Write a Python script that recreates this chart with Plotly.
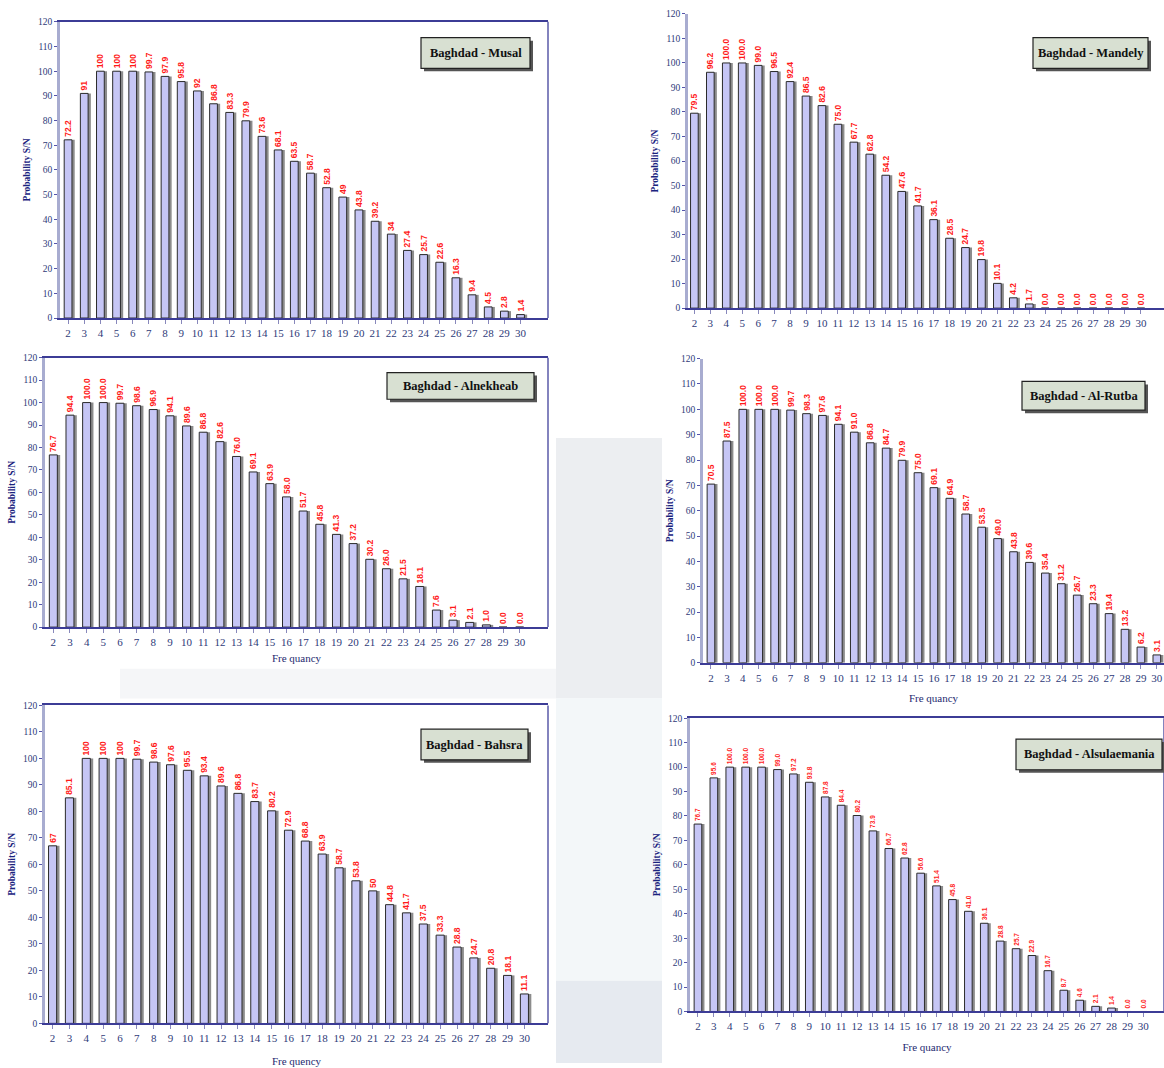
import plotly.graph_objects as go

W, H = 1164, 1068

freq = list(range(2, 31))

musal = [72.2, 91, 100, 100, 100, 99.7, 97.9, 95.8, 92, 86.8, 83.3, 79.9, 73.6, 68.1, 63.5,
         58.7, 52.8, 49, 43.8, 39.2, 34, 27.4, 25.7, 22.6, 16.3, 9.4, 4.5, 2.8, 1.4]
mandely = [79.5, 96.2, 100.0, 100.0, 99.0, 96.5, 92.4, 86.5, 82.6, 75.0, 67.7, 62.8, 54.2, 47.6,
           41.7, 36.1, 28.5, 24.7, 19.8, 10.1, 4.2, 1.7, 0.0, 0.0, 0.0, 0.0, 0.0, 0.0, 0.0]
alnekheab = [76.7, 94.4, 100.0, 100.0, 99.7, 98.6, 96.9, 94.1, 89.6, 86.8, 82.6, 76.0, 69.1, 63.9,
             58.0, 51.7, 45.8, 41.3, 37.2, 30.2, 26.0, 21.5, 18.1, 7.6, 3.1, 2.1, 1.0, 0.0, 0.0]
alrutba = [70.5, 87.5, 100.0, 100.0, 100.0, 99.7, 98.3, 97.6, 94.1, 91.0, 86.8, 84.7, 79.9, 75.0,
           69.1, 64.9, 58.7, 53.5, 49.0, 43.8, 39.6, 35.4, 31.2, 26.7, 23.3, 19.4, 13.2, 6.2, 3.1]
bahsra = [67, 85.1, 100, 100, 100, 99.7, 98.6, 97.6, 95.5, 93.4, 89.6, 86.8, 83.7, 80.2, 72.9,
          68.8, 63.9, 58.7, 53.8, 50, 44.8, 41.7, 37.5, 33.3, 28.8, 24.7, 20.8, 18.1, 11.1]
alsulaemania = [76.7, 95.6, 100.0, 100.0, 100.0, 99.0, 97.2, 93.8, 87.8, 84.4, 80.2, 73.9, 66.7,
                62.8, 56.6, 51.4, 45.8, 41.0, 36.1, 28.8, 25.7, 22.9, 16.7, 8.7, 4.6, 2.1, 1.4, 0.0, 0.0]

titles = ["Baghdad - Musal", "Baghdad - Mandely", "Baghdad - Alnekheab",
          "Baghdad - Al-Rutba", "Baghdad - Bahsra", "Baghdad - Alsulaemania"]
series = [musal, mandely, alnekheab, alrutba, bahsra, alsulaemania]
fmt = ["g", ".1f", ".1f", ".1f", "g", ".1f"]
yticks = list(range(0, 121, 10))

panels = [
    dict(px=(60, 548, 17, 316), xr=(1.5, 31.7), box=(421, 33, 530, 64), frame=True,
         xtitle=None, st=0, lblsize=8.5, boxfont="Liberation Serif"),
    dict(px=(688, 1164, 9, 306), xr=(1.6, 31.45), box=(1033, 33, 1148, 64), frame=False,
         xtitle=None, st=0, lblsize=8.5, boxfont="Liberation Serif"),
    dict(px=(45, 548, 356, 628), xr=(1.5, 31.7), box=(387, 371, 534, 398), frame=True,
         xtitle="Fre quancy", st=7, lblsize=8.5, boxfont="Liberation Serif"),
    dict(px=(703, 1164, 357, 664), xr=(1.5, 30.45), box=(1022, 380, 1145, 409), frame=False,
         xtitle="Fre quancy", st=12, lblsize=8.5, boxfont="Liberation Serif"),
    dict(px=(45, 548, 707, 1028), xr=(1.55, 31.4), box=(421, 731, 528, 762), frame=True,
         xtitle="Fre quency", st=14, lblsize=8.5, boxfont="Liberation Serif"),
    dict(px=(690, 1164, 720, 1016), xr=(1.5, 31.3), box=(1016, 741, 1162, 772), frame=True,
         xtitle="Fre quancy", st=12, lblsize=6.5, boxfont="Liberation Sans Narrow"),
]

fig = go.Figure()
shapes = []
annotations = []

def fx(p):
    return p / W

def fy(p):
    return 1 - p / H

shapes += [
    dict(type="rect", xref="paper", yref="paper", x0=fx(556), x1=fx(662), y0=fy(700), y1=fy(437),
         fillcolor="#eceef1", line=dict(width=0), layer="below"),
    dict(type="rect", xref="paper", yref="paper", x0=fx(556), x1=fx(662), y0=fy(985), y1=fy(700),
         fillcolor="#f3f7f9", line=dict(width=0), layer="below"),
    dict(type="rect", xref="paper", yref="paper", x0=fx(556), x1=fx(662), y0=fy(1068), y1=fy(985),
         fillcolor="#e6eaf0", line=dict(width=0), layer="below"),
    dict(type="rect", xref="paper", yref="paper", x0=fx(120), x1=fx(556), y0=fy(700), y1=fy(670),
         fillcolor="#f5f6f8", line=dict(width=0), layer="below"),
]

for i, (p, vals) in enumerate(zip(panels, series)):
    n = "" if i == 0 else str(i + 1)
    xa, ya = "x" + n, "y" + n
    x0, x1, yt, yb = p["px"]
    txt = ["<b>" + format(v, fmt[i]) + "</b>" for v in vals]
    fig.add_trace(go.Bar(x=freq, y=vals, xaxis=xa, yaxis=ya, width=0.48, offset=-0.24 + 0.17,
                         marker=dict(color="#8c8c8c", line=dict(width=0)),
                         hoverinfo="skip", showlegend=False))
    fig.add_trace(go.Bar(x=freq, y=vals, xaxis=xa, yaxis=ya, width=0.48, offset=-0.24,
                         marker=dict(color="#c6c6f5", line=dict(color="#2b2b2b", width=1)),
                         text=txt, textposition="outside", textangle=-90,
                         constraintext="none", cliponaxis=False,
                         textfont=dict(color="#ff1a1a", size=p["lblsize"], family="Liberation Sans"),
                         showlegend=False))
    layout_x = dict(domain=[fx(x0), fx(x1)], range=list(p["xr"]), anchor=ya,
                    tickmode="array", tickvals=freq, ticktext=[str(f) for f in freq],
                    showline=True, linecolor="#3c3c96", linewidth=1.5,
                    ticks="outside", ticklen=4, tickcolor="#8888bb",
                    tickfont=dict(size=11, color="#2e3a78", family="Liberation Sans Narrow"),
                    showgrid=False, zeroline=False, fixedrange=True,
                    mirror=p["frame"])
    if p["xtitle"]:
        layout_x["title"] = dict(text=p["xtitle"], standoff=p["st"],
                                 font=dict(size=11, color="#1e2a70", family="Liberation Serif"))
    layout_y = dict(domain=[fy(yb), fy(yt)], range=[0, 120], anchor=xa,
                    tickmode="array", tickvals=yticks,
                    showline=True, linecolor="#a8acd0", linewidth=2.5,
                    ticks="outside", ticklen=3, tickcolor="#5555aa",
                    tickfont=dict(size=9.5, color="#2e3a78", family="Liberation Sans Narrow"),
                    showgrid=False, zeroline=False, fixedrange=True,
                    title=dict(text="<b>Probability S/N</b>", standoff=6,
                               font=dict(size=9.5, color="#1a237e", family="Liberation Serif")))
    fig.layout["xaxis" + n] = layout_x
    fig.layout["yaxis" + n] = layout_y
    if p["frame"]:
        shapes.append(dict(type="line", xref="paper", yref="paper",
                           x0=fx(x1), x1=fx(x1), y0=fy(yb), y1=fy(yt),
                           line=dict(color="#5a5aa8", width=1.5)))

    bx0, by0, bx1, by1 = p["box"]
    shapes.append(dict(type="rect", xref="paper", yref="paper",
                       x0=fx(bx0 + 3), x1=fx(bx1 + 3), y0=fy(by1 + 3), y1=fy(by0 + 3),
                       fillcolor="#555555", line=dict(width=0)))
    shapes.append(dict(type="rect", xref="paper", yref="paper",
                       x0=fx(bx0), x1=fx(bx1), y0=fy(by1), y1=fy(by0),
                       fillcolor="#d8e0d2", line=dict(color="#222222", width=1.2)))
    annotations.append(dict(xref="paper", yref="paper", x=fx((bx0 + bx1) / 2), y=fy((by0 + by1) / 2),
                            text="<b>" + titles[i] + "</b>", showarrow=False,
                            xanchor="center", yanchor="middle",
                            font=dict(size=12.5, color="#111111", family=p["boxfont"])))

fig.update_layout(width=W, height=H, margin=dict(l=0, r=0, t=0, b=0),
                  paper_bgcolor="white", plot_bgcolor="rgba(0,0,0,0)",
                  barmode="overlay", showlegend=False,
                  shapes=shapes, annotations=annotations)

fig.write_html("out.html", config={"displayModeBar": False},
               post_script="document.body.style.margin='0';document.body.style.overflow='hidden';")
